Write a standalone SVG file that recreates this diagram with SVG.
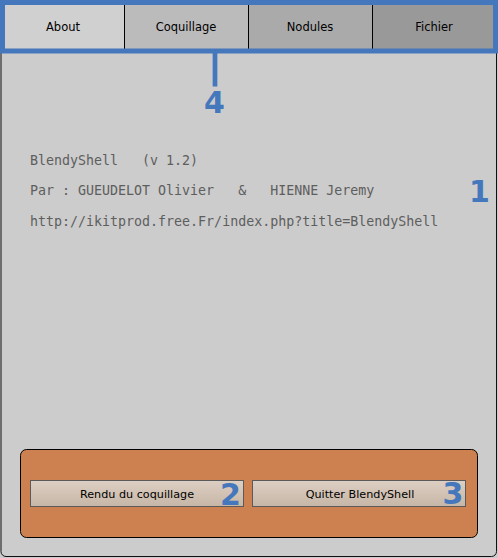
<svg xmlns="http://www.w3.org/2000/svg" width="498" height="558" viewBox="0 0 498 558">
<defs>
<linearGradient id="btn" x1="0" y1="0" x2="0" y2="1">
<stop offset="0" stop-color="#ddcfc3"/>
<stop offset="1" stop-color="#c6b6a7"/>
</linearGradient>
<style>
.tabtxt{font-family:"DejaVu Sans",sans-serif;font-size:11.5px;fill:#000;text-anchor:middle}
.mono{font-family:"DejaVu Sans Mono","Liberation Mono",monospace;font-size:13.3px;fill:#5e5e5e;white-space:pre}
.num{font-family:"DejaVu Sans",sans-serif;font-weight:bold;font-size:30px;fill:#4477bb;text-anchor:middle}
.btn{fill:url(#btn);stroke:#5a5a5a;stroke-width:1}
.btntxt{font-family:"DejaVu Sans",sans-serif;font-size:11.2px;fill:#000;text-anchor:middle}
</style>
</defs>
<rect width="498" height="558" fill="#cccccc"/>
<g id="panel">
<rect x="1" y="20" width="495.5" height="536.5" rx="5" fill="#cccccc" stroke="#111" stroke-width="1"/>
</g>
<g id="info">
<text class="mono" x="30" y="165">BlendyShell   (v 1.2)</text>
<text class="mono" x="30" y="195">Par : GUEUDELOT Olivier   &amp;   HIENNE Jeremy</text>
<text class="mono" x="30" y="226">http://ikitprod.free.Fr/index.php?title=BlendyShell</text>
</g>
<g id="tabs">
<rect x="4" y="4" width="121" height="46" fill="#d0d0d0"/>
<rect x="125" y="4" width="124" height="46" fill="#bbbbbb"/>
<rect x="249" y="4" width="124" height="46" fill="#aaaaaa"/>
<rect x="373" y="4" width="121" height="46" fill="#999999"/>
<line x1="124.5" y1="4" x2="124.5" y2="50" stroke="#000"/>
<line x1="248.5" y1="4" x2="248.5" y2="50" stroke="#000"/>
<line x1="372.5" y1="4" x2="372.5" y2="50" stroke="#000"/>
<text class="tabtxt" x="63" y="30.5">About</text>
<text class="tabtxt" x="186" y="30.5">Coquillage</text>
<text class="tabtxt" x="310" y="30.5">Nodules</text>
<text class="tabtxt" x="434" y="30.5">Fichier</text>
</g>
<g id="buttons">
<rect x="20.5" y="449.5" width="457" height="88" rx="6" fill="#cd8150" stroke="#000" stroke-width="1"/>
<rect class="btn" x="30.5" y="480.5" width="213" height="26"/>
<text class="btntxt" x="137" y="498">Rendu du coquillage</text>
<rect class="btn" x="252.5" y="480.5" width="213" height="26"/>
<text class="btntxt" x="360" y="498">Quitter BlendyShell</text>
</g>
<g id="connectors">
<rect x="2.5" y="2.5" width="493" height="48.5" fill="none" stroke="#4477bb" stroke-width="5"/>
<line x1="215" y1="51" x2="215" y2="86.5" stroke="#4477bb" stroke-width="4.7"/>
</g>
<g id="labels">
<text class="num" x="214.5" y="112.5">4</text>
<text class="num" x="479.5" y="201.5">1</text>
<text class="num" x="230.5" y="505">2</text>
<text class="num" x="453" y="504">3</text>
</g>
</svg>
